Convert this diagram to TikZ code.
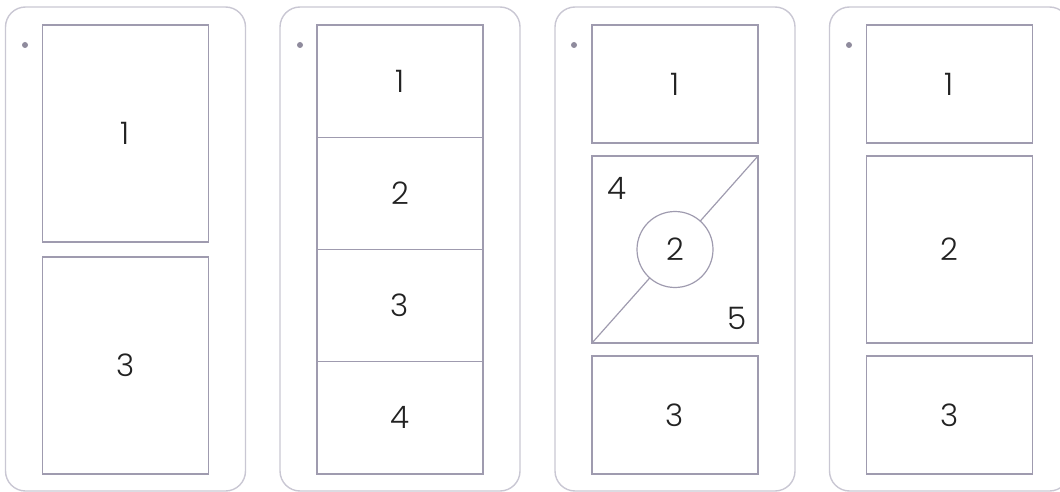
\documentclass[tikz,border=0pt]{standalone}
\usepackage{fontspec}
\setmainfont{Poppins}[UprightFont=* Light]
\usepackage{xcolor}
\usetikzlibrary{positioning}
\definecolor{panelline}{HTML}{C9C7D3}
\definecolor{cellline}{HTML}{9F9BAF}
\definecolor{dotgray}{HTML}{8F8B9D}
\definecolor{numtext}{HTML}{222222}

\begin{document}
\begin{tikzpicture}[
    x=1pt, y=-1pt,
    panel/.style={rectangle, draw=panelline, line width=1.4pt, rounded corners=20pt, minimum width=240pt, minimum height=484pt, inner sep=0pt},
    cell/.style={rectangle, draw=cellline, line width=1.3pt, minimum width=166pt, inner sep=0pt, outer sep=0pt, text=numtext, font=\fontsize{31}{36}\selectfont},
    halfcell/.style={cell, minimum height=217pt},
    quartercell/.style={cell, minimum height=112.25pt},
    smallcell/.style={cell, minimum height=118pt},
    tallcell/.style={cell, minimum height=187pt},
    hub/.style={circle, draw=cellline, line width=1.2pt, fill=white, minimum size=76pt, inner sep=0pt, text=numtext, font=\fontsize{31}{36}\selectfont},
    corner/.style={text=numtext, inner sep=0pt, font=\fontsize{31}{36}\selectfont},
    led/.style={circle, fill=dotgray, minimum size=6pt, inner sep=0pt}
]
\useasboundingbox (0,0) rectangle (1060,492);
\clip (0,0) rectangle (1060,492);

% Panel A: two halves
\node[panel] (pa) at (125.5,249) {};
\node[led] (pa_led) at (25,45) {};
\node[halfcell] (pa_1) at (125.5,133.5) {1};
\node[halfcell] (pa_3) at (125.5,365.5) {3};

% Panel B: four rows
\node[panel] (pb) at (400,249) {};
\node[led] (pb_led) at (300,45) {};
\node[quartercell] (pb_1) at (400,81.1) {1};
\node[quartercell, below=0pt of pb_1] (pb_2) {2};
\node[quartercell, below=0pt of pb_2] (pb_3) {3};
\node[quartercell, below=0pt of pb_3] (pb_4) {4};

% Panel C: split middle with hub
\node[panel] (pc) at (675,249) {};
\node[led] (pc_led) at (574,45) {};
\node[smallcell] (pc_1) at (675,84) {1};
\node[tallcell] (pc_mid) at (675,249.5) {};
\node[smallcell] (pc_3) at (675,415) {3};
\draw[cellline, line width=1.2pt] (pc_mid.south west) -- (pc_mid.north east);
\node[hub] (pc_2) at (pc_mid.center) {2};
\node[corner] (pc_4) at (617,188) {4};
\node[corner] (pc_5) at (737,318) {5};

% Panel D: three rows
\node[panel] (pd) at (949.5,249) {};
\node[led] (pd_led) at (849,45) {};
\node[smallcell] (pd_1) at (949.5,84) {1};
\node[tallcell] (pd_2) at (949.5,249.5) {2};
\node[smallcell] (pd_3) at (949.5,415) {3};

\end{tikzpicture}
\end{document}
